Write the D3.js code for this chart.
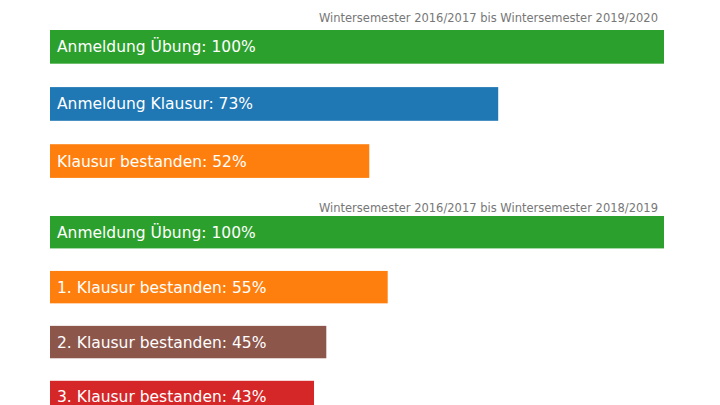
<!DOCTYPE html>
<html lang="de">
<head>
<meta charset="UTF-8">
<script src="https://d3js.org/d3.v7.min.js"></script>
<style>
  body { margin: 0; background: #fff; font-family: "DejaVu Sans", sans-serif; }
</style>
</head>
<body>
<script>
  // Data
  const titles = ["Wintersemester 2016/2017 bis Wintersemester 2019/2020",
                  "Wintersemester 2016/2017 bis Wintersemester 2018/2019"];
  const labels1 = ["Anmeldung Übung", "Anmeldung Klausur", "Klausur bestanden"];
  const values1 = [100, 73, 52];
  const colors1 = ["#2ca02c", "#1f77b4", "#ff7f0e"];
  const labels2 = ["Anmeldung Übung", "1. Klausur bestanden", "2. Klausur bestanden", "3. Klausur bestanden"];
  const values2 = [100, 55, 45, 43];
  const colors2 = ["#2ca02c", "#ff7f0e", "#8c564b", "#d62728"];

  const width = 720, height = 405;
  const svg = d3.select("body").append("svg").attr("width", width).attr("height", height);

  const x = d3.scaleLinear().domain([0, 100]).range([50, 664]);

  function group(title, labels, values, colors, top, titleY) {
    const y = d3.scaleBand().domain(labels.map((d, i) => i)).range([top, top + labels.length * 49.3]).paddingInner(0.41).paddingOuter(0);
    svg.append("text").attr("x", 658).attr("y", titleY).attr("text-anchor", "end")
      .attr("font-size", 11.5).attr("fill", "#777").text(title);
    const g = svg.append("g");
    g.selectAll("rect").data(values).enter().append("rect")
      .attr("x", x(0)).attr("y", (d, i) => y(i))
      .attr("width", d => x(d) - x(0)).attr("height", y.bandwidth())
      .attr("fill", (d, i) => colors[i]);
    g.selectAll("text").data(values).enter().append("text")
      .attr("x", x(0) + 7).attr("y", (d, i) => y(i) + y.bandwidth() / 2 + 5.5)
      .attr("fill", "#fff").attr("font-size", 15.5)
      .text((d, i) => `${labels[i]}: ${d}%`);
  }

  group(titles[0], labels1, values1, colors1, 30, 22);
  group(titles[1], labels2, values2, colors2, 216, 212);
</script>
</body>
</html>
